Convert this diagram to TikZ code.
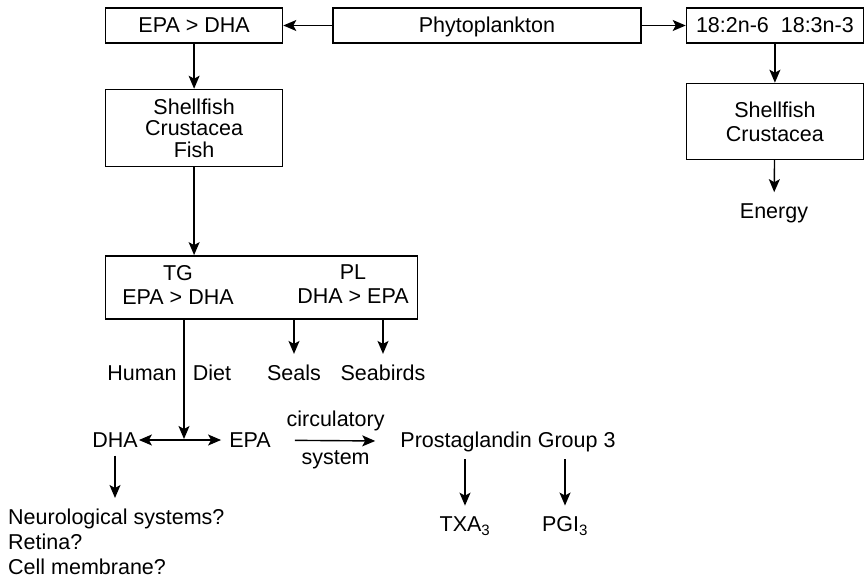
\documentclass[tikz,border=0pt]{standalone}
\usepackage{fontspec}
\setmainfont{Liberation Sans}
\usetikzlibrary{
  arrows.meta,
  positioning,
  calc
}
\tikzset{
  % Framed box: size given per node
  box/.style={
    rectangle, draw, line width=1.4pt,
    inner sep=0pt, align=center
  },
  % One-line box of the top row
  rowbox/.style={
    box, minimum height=35pt,
    text height=15pt, text depth=0pt
  },
  % Arrow
  arr/.style={
    -{Stealth[length=13pt,width=11pt,inset=3pt]},
    line width=1.4pt
  },
  % Double arrow
  darr/.style={
    {Stealth[length=13pt,width=11pt,inset=3pt]}-{Stealth[length=13pt,width=11pt,inset=3pt]},
    line width=1.4pt
  },
  % Arrow ending at a bare text
  toLbl/.style={shorten >=11pt},
  % Bare text
  lbl/.style={inner sep=0pt, align=center}
}

\begin{document}
\begin{tikzpicture}[x=1pt, y=-1pt, font=\fontsize{21.5}{24}\selectfont]

  \useasboundingbox (0,0) rectangle (866,580);

  % Top row
  \node[rowbox, minimum width=308pt] (phyto) at (487,25.5) {Phytoplankton};
  \node[rowbox, minimum width=177pt, left=49pt of phyto]  (epadha) {EPA > DHA};
  \node[rowbox, minimum width=177pt, right=44pt of phyto] (linol)  {18:2n-6\ \ 18:3n-3};

  % Second row
  \node[box, minimum width=177pt, minimum height=77pt, below=45pt of epadha, font=\fontsize{21.5}{21.5}\selectfont] (scf) {Shellfish\\Crustacea\\Fish};
  \node[box, minimum width=177pt, minimum height=76pt, below=39pt of linol] (scr) {Shellfish\\Crustacea};
  \node[lbl] (energy) at (774,213) {Energy};

  % Lipid classes
  \node[box, minimum width=312pt, minimum height=63pt, anchor=north west] (tgpl) at ($(scf.south west)+(0,88)$) {};
  \node[lbl] (tg) at (178,284.5) {TG\\EPA > DHA};
  \node[lbl] (pl) at (353,284.5) {PL\\DHA > EPA};

  % Consumers
  \node[lbl] (human)    at (142,373) {Human};
  \node[lbl] (diet)     at (212,373) {Diet};
  \node[lbl] (seals)    at (294,373) {Seals};
  \node[lbl] (seabirds) at (383,373) {Seabirds};

  % Human metabolism
  \node[lbl] (dha)   at (115,440) {DHA};
  \node[lbl] (epa)   at (250,440) {EPA};
  \node[lbl] (prost) at (508,442) {Prostaglandin Group 3};
  \node[lbl] (txa)   at (465,526) {TXA\textsubscript{3}};
  \node[lbl] (pgi)   at (565,526) {PGI\textsubscript{3}};
  \node[lbl, anchor=north west, align=left, font=\fontsize{21.5}{25}\selectfont] (neuro) at (8,509) {Neurological systems?\\Retina?\\Cell membrane?};
  \coordinate (join) at (184,440);

  \draw[arr] (phyto)  -- (epadha);
  \draw[arr] (phyto)  -- (linol);
  \draw[arr] (epadha) -- (scf);
  \draw[arr] (linol)  -- (scr);
  \draw[arr, toLbl] (scr) -- (energy);
  \draw[arr] (scf.south) -- (scf.south |- tgpl.north);
  \draw[arr, toLbl] (tgpl.south -| seals)    -- (seals.north);
  \draw[arr, toLbl] (tgpl.south -| seabirds) -- (seabirds.north);
  \draw[darr, shorten <=1pt, shorten >=8pt] (dha) -- (epa);
  \draw[arr, shorten >=1pt] (tgpl.south -| join) -- (join);
  \draw[arr, shorten <=24pt, shorten >=25pt] (epa) -- node[lbl, above=9pt]{circulatory} node[lbl, below=9pt]{system} (prost);
  \draw[arr, shorten <=7pt, toLbl] (prost.south -| txa) -- (txa.north);
  \draw[arr, shorten <=7pt, toLbl] (prost.south -| pgi) -- (pgi.north);
  \draw[arr, shorten <=8pt, toLbl] (dha.south) -- (dha.south |- neuro.north);

\end{tikzpicture}
\end{document}
